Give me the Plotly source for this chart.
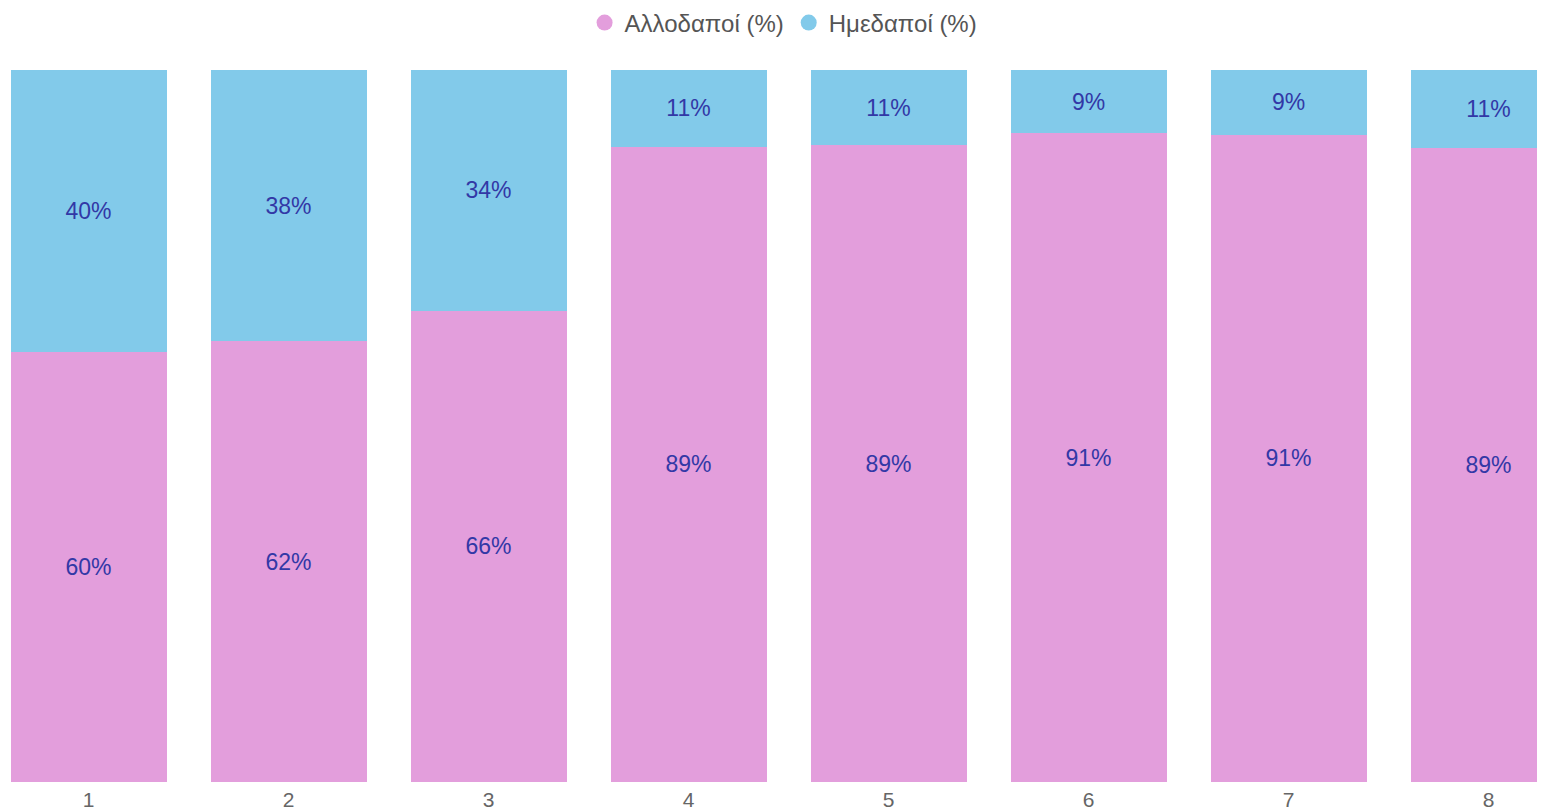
import plotly.graph_objects as go

categories = [1, 2, 3, 4, 5, 6, 7, 8]
allodapoi = [60.4, 61.9, 66.2, 89.2, 89.4, 91.1, 90.9, 89.0]
imedapoi = [39.6, 38.1, 33.8, 10.8, 10.6, 8.9, 9.1, 11.0]
series_names = ["Αλλοδαποί (%)", "Ημεδαποί (%)"]
colors = ["#E39EDC", "#82CAEA"]
label_color = "#3238A6"

fig = go.Figure()
for name, vals, col in zip(series_names, [allodapoi, imedapoi], colors):
    fig.add_trace(go.Bar(
        x=categories, y=vals, name=name, marker=dict(color=col, line=dict(width=0)),
        texttemplate="%{y:.0f}%", textposition="inside", insidetextanchor="middle",
        textfont=dict(color=label_color, size=23, family="Liberation Sans, Arial"),
        showlegend=False, hoverinfo="skip",
    ))
    fig.add_trace(go.Scatter(
        x=[None], y=[None], mode="markers", name=name,
        marker=dict(color=col, size=18, symbol="circle"), showlegend=True,
    ))

fig.update_layout(
    barmode="stack", bargap=0.22,
    width=1545, height=804,
    margin=dict(l=0, r=0, t=62, b=30, autoexpand=False),
    paper_bgcolor="white", plot_bgcolor="white",
    font=dict(family="Liberation Sans, Arial", color="#555555"),
    uniformtext=dict(minsize=10, mode="show"),
    legend=dict(orientation="h", x=0.502, xanchor="center", y=1.066, yref="paper",
                yanchor="middle", font=dict(size=24, color="#555555"),
                itemwidth=30, itemsizing="trace", traceorder="normal", tracegroupgap=0),
    xaxis=dict(range=[0.5975, 8.3225], tickvals=categories, ticktext=[str(c) for c in categories],
               showgrid=False, zeroline=False, showline=False, ticks="",
               ticklabelstandoff=3, automargin=False,
               tickfont=dict(size=21, color="#666666")),
    yaxis=dict(range=[0, 100], visible=False, showgrid=False, zeroline=False, automargin=False),
)
fig.write_html("out.html")
